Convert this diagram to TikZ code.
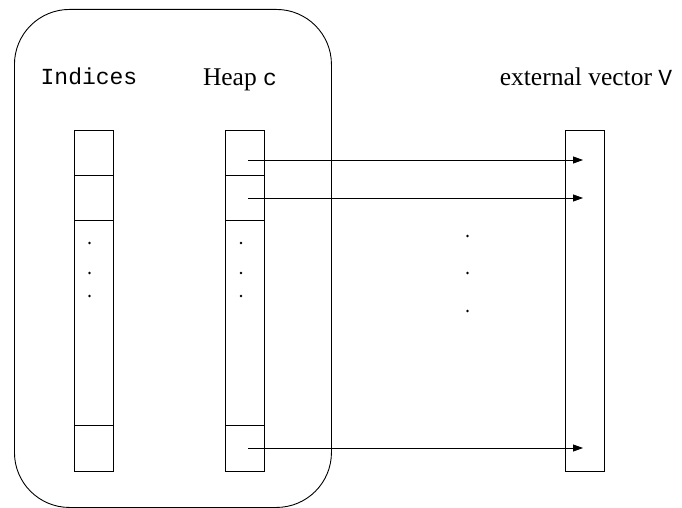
\documentclass[tikz,border=0pt]{standalone}
\usepackage{fontspec}
\setmainfont{Liberation Serif}
\setmonofont{Liberation Mono}
\usetikzlibrary{arrows.meta}
\newcommand{\tcode}[1]{{\fontsize{23}{26}\selectfont\ttfamily #1}}
\begin{document}
\begin{tikzpicture}[x=1pt,y=-1pt,line width=0.9pt,
  col/.style={draw,minimum width=39pt,inner sep=0pt,outer sep=0pt,anchor=north west},
  lbl/.style={font=\fontsize{25.5}{28}\selectfont,anchor=base,inner sep=0pt},
  ptr/.style={-{Triangle[length=10pt,width=7pt]},line width=0.8pt},
  dotm/.style={circle,fill,inner sep=0pt,minimum size=2.8pt}]
\useasboundingbox (0,0) rectangle (682,508);
\node[draw,rounded corners=55pt,minimum width=317pt,minimum height=498pt,anchor=north west,inner sep=0pt] (group) at (14,9) {};
\node[lbl] (lind) at (89,85) {\tcode{Indices}};
\node[lbl] (lheap) at (240,86) {Heap \tcode{c}};
\node[lbl] (lext) at (586,86) {external vector \tcode{V}};
% Indices column
\node[col,minimum height=45pt] (i1) at (74,130) {};
\node[col,minimum height=45pt] (i2) at (74,175) {};
\node[col,minimum height=205pt] (i3) at (74,220) {};
\node[col,minimum height=46pt] (i4) at (74,425) {};
% Heap column
\node[col,minimum height=45pt] (h1) at (225,130) {};
\node[col,minimum height=45pt] (h2) at (225,175) {};
\node[col,minimum height=205pt] (h3) at (225,220) {};
\node[col,minimum height=46pt] (h4) at (225,425) {};
% external vector
\node[col,minimum height=341pt] (v) at (565,130) {};
% dots
\foreach \y [count=\k] in {243,273,296}{
  \node[dotm] (di\k) at (89.5,\y) {};
  \node[dotm] (dh\k) at (241,\y) {};
}
\foreach \y [count=\k] in {236,273,311}{
  \node[dotm] (dm\k) at (467.5,\y) {};
}
% pointers
\coordinate (s1) at (248,160); \coordinate (e1) at (583,160);
\coordinate (s2) at (248,198); \coordinate (e2) at (583,198);
\coordinate (s3) at (248,448); \coordinate (e3) at (583,448);
\draw[ptr] (s1) -- (e1);
\draw[ptr] (s2) -- (e2);
\draw[ptr] (s3) -- (e3);
\end{tikzpicture}
\end{document}
